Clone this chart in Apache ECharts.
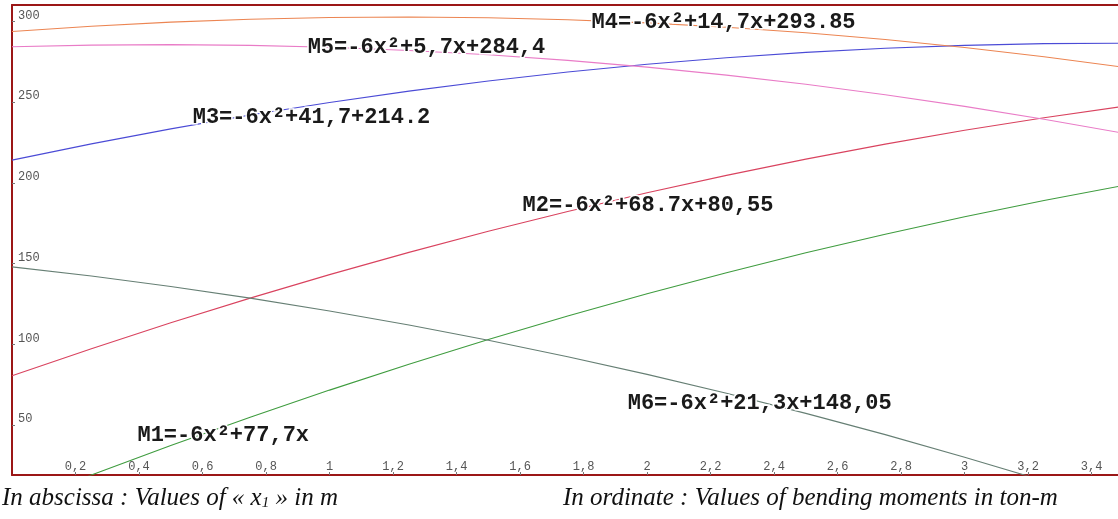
<!DOCTYPE html>
<html>
<head>
<meta charset="utf-8">
<script src="https://cdn.jsdelivr.net/npm/echarts@6/dist/echarts.min.js"></script>
<style>
html,body{margin:0;padding:0;background:#fff;}
#chart{width:1118px;height:519px;}
</style>
</head>
<body>
<div id="chart"></div>
<script>
// x positions (m)
const xValues = [0, 0.25, 0.5, 0.75, 1, 1.25, 1.5, 1.75, 2, 2.25, 2.5, 2.75, 3, 3.25, 3.5];
// bending moments (ton-m)
const m1 = [0, 19.05, 37.35, 54.9, 71.7, 87.75, 103.05, 117.6, 131.4, 144.45, 156.75, 168.3, 179.1, 189.15, 198.45];
const m2 = [80.55, 97.35, 113.4, 128.7, 143.25, 157.05, 170.1, 182.4, 193.95, 204.75, 214.8, 224.1, 232.65, 240.45, 247.5];
const m3 = [214.2, 224.25, 233.55, 242.1, 249.9, 256.95, 263.25, 268.8, 273.6, 277.65, 280.95, 283.5, 285.3, 286.35, 286.65];
const m4 = [293.85, 297.15, 299.7, 301.5, 302.55, 302.85, 302.4, 301.2, 299.25, 296.55, 293.1, 288.9, 283.95, 278.25, 271.8];
const m5 = [284.4, 285.45, 285.75, 285.3, 284.1, 282.15, 279.45, 276, 271.8, 266.85, 261.15, 254.7, 247.5, 239.55, 230.85];
const m6 = [148.05, 142.35, 135.9, 128.7, 120.75, 112.05, 102.6, 92.4, 81.45, 69.75, 57.3, 44.1, 30.15, 15.45, 0];
// curve labels
const curveLabels = [
  'M1=-6x²+77,7x',
  'M2=-6x²+68.7x+80,55',
  'M3=-6x²+41,7+214.2',
  'M4=-6x²+14,7x+293.85',
  'M5=-6x²+5,7x+284,4',
  'M6=-6x²+21,3x+148,05'
];
// tick values
const xTicks = [0.2, 0.4, 0.6, 0.8, 1, 1.2, 1.4, 1.6, 1.8, 2, 2.2, 2.4, 2.6, 2.8, 3, 3.2, 3.4];
const yTicks = [50, 100, 150, 200, 250, 300];

const seriesValues = [m1, m2, m3, m4, m5, m6];
const colors = ['#3f9c3f', '#d9435f', '#4b4bd6', '#ec8552', '#e97cc7', '#667f74'];
// label anchor (left-middle) in data coordinates
const labelAnchors = [[0.395, 43.9], [1.608, 186.4], [0.569, 240.4], [1.825, 299.2], [0.931, 283.7], [1.939, 63.7]];

function fmt(v) {
  let s = (Math.round(v * 10) / 10).toString();
  return s.replace('.', ',');
}

const series = seriesValues.map((vals, i) => ({
  type: 'line',
  name: 'M' + (i + 1),
  data: xValues.map((x, j) => [x, vals[j]]),
  showSymbol: false,
  symbol: 'none',
  lineStyle: { color: colors[i], width: 1.1 },
  itemStyle: { color: colors[i] },
  clip: true,
  z: 2,
  markPoint: {
    symbol: 'circle',
    symbolSize: 0,
    silent: true,
    z: 10,
    data: [{
      coord: labelAnchors[i],
      label: {
        show: true,
        formatter: curveLabels[i],
        position: 'right',
        distance: 0,
        fontFamily: 'Liberation Mono',
        fontWeight: 'bold',
        fontSize: 22,
        color: '#1a1a1a',
        textBorderColor: '#ffffff',
        textBorderWidth: 3
      }
    }]
  }
}));

const chart = echarts.init(document.getElementById('chart'), null, { renderer: 'canvas' });
chart.setOption({
  animation: false,
  backgroundColor: '#ffffff',
  title: [
    {
      text: '{t|In abscissa : Values of « x}{s|1}{t| » in m}',
      left: 2, top: 486, padding: 0,
      textStyle: {
        fontWeight: 'normal',
        rich: {
          t: { fontFamily: 'Liberation Serif', fontStyle: 'italic', fontWeight: 'normal', fontSize: 25, color: '#111' },
          s: { fontFamily: 'Liberation Serif', fontStyle: 'italic', fontWeight: 'normal', fontSize: 15, color: '#111', verticalAlign: 'bottom', padding: [10, 0, 0, 0] }
        }
      }
    },
    {
      text: 'In ordinate : Values of bending moments in ton-m',
      left: 563, top: 486, padding: 0,
      textStyle: { fontFamily: 'Liberation Serif', fontStyle: 'italic', fontWeight: 'normal', fontSize: 25, color: '#111' }
    }
  ],
  grid: { left: 12, right: 0, top: 5, bottom: 44, containLabel: false },
  xAxis: [
    {
      type: 'value', min: 0, max: 3.483, position: 'bottom',
      axisLine: { show: true, onZero: false, lineStyle: { color: '#9b1717', width: 2 } },
      axisTick: { show: true, inside: true, length: 3, lineStyle: { color: '#777' }, customValues: xTicks },
      axisLabel: {
        show: true, inside: true, margin: 2, customValues: xTicks,
        formatter: fmt, fontFamily: 'Liberation Mono', fontSize: 12, color: '#555'
      },
      splitLine: { show: false }
    },
    {
      type: 'value', min: 0, max: 3.483, position: 'top',
      axisLine: { show: true, lineStyle: { color: '#9b1717', width: 2 } },
      axisTick: { show: false }, axisLabel: { show: false }, splitLine: { show: false }
    }
  ],
  yAxis: {
    type: 'value', min: 19.1, max: 310.3,
    axisLine: { show: true, onZero: false, lineStyle: { color: '#9b1717', width: 2 } },
    axisTick: { show: true, inside: true, length: 3, lineStyle: { color: '#777' }, customValues: yTicks },
    axisLabel: {
      show: true, inside: true, margin: 6, customValues: yTicks,
      verticalAlign: 'bottom', fontFamily: 'Liberation Mono', fontSize: 12, color: '#555'
    },
    splitLine: { show: false }
  },
  series: series
});
</script>
</body>
</html>
